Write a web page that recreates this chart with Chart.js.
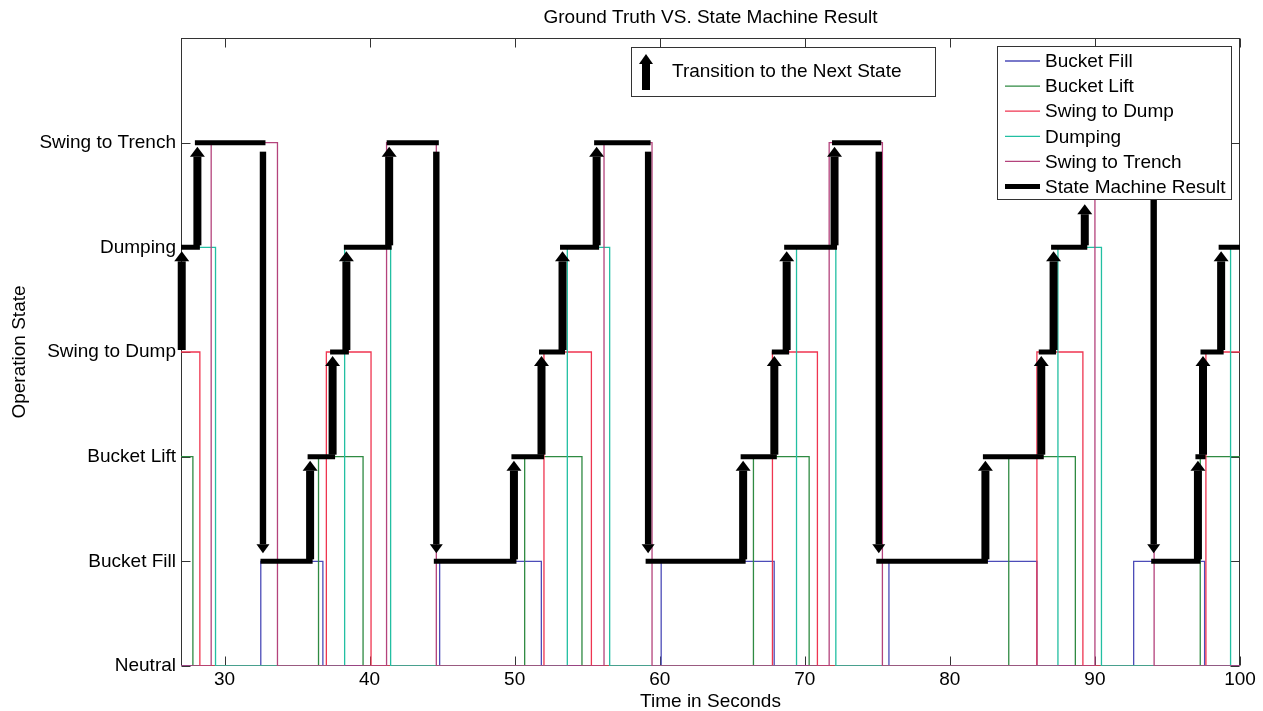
<!DOCTYPE html>
<html>
<head>
<meta charset="utf-8">
<title>Ground Truth VS. State Machine Result</title>
<script src="https://cdn.jsdelivr.net/npm/chart.js@4.4.1/dist/chart.umd.min.js"></script>
<style>
  html, body { margin: 0; padding: 0; background: #fff; }
  #chart { display: block; }
</style>
</head>
<body>
<canvas id="chart" width="1263" height="711"></canvas>
<script>
const stateNames = ['Neutral', 'Bucket Fill', 'Bucket Lift', 'Swing to Dump', 'Dumping', 'Swing to Trench'];
const xTicks = [30, 40, 50, 60, 70, 80, 90, 100];

// ground truth: time where each signal changes and the value it holds from there on
const bucketFillTimes   = [27, 32.5, 36.78, 44.83, 51.84, 60.1, 67.89, 75.8, 86.0, 92.67, 97.56, 100];
const bucketFillValues  = [0, 1, 0, 1, 0, 1, 0, 1, 0, 1, 0, 0];
const bucketLiftTimes   = [27, 27.82, 36.48, 39.55, 50.69, 54.64, 66.46, 70.3, 84.06, 88.65, 97.26, 100];
const bucketLiftValues  = [2, 0, 2, 0, 2, 0, 2, 0, 2, 0, 2, 2];
const swingDumpTimes    = [27, 28.3, 37.02, 40.1, 52.02, 55.29, 67.77, 70.87, 86.0, 89.17, 97.65, 100];
const swingDumpValues   = [3, 0, 3, 0, 3, 0, 3, 0, 3, 0, 3, 3];
const dumpingTimes      = [27, 29.38, 38.28, 41.45, 53.63, 56.55, 69.43, 72.14, 87.45, 90.45, 99.35, 100];
const dumpingValues     = [4, 0, 4, 0, 4, 0, 4, 0, 4, 0, 4, 4];
const swingTrenchTimes  = [27, 29.08, 33.65, 41.17, 44.6, 56.16, 59.47, 71.68, 75.35, 90.0, 94.08, 100];
const swingTrenchValues = [0, 5, 0, 5, 0, 5, 0, 5, 0, 5, 0, 0];

// state machine: transition times and the state entered at each one
const machineStart  = 3;
const machineTimes  = [27.05, 28.13, 32.65, 35.9, 37.45, 38.4, 41.35, 44.6, 49.95, 51.85, 53.3, 55.65,
                       59.2, 65.75, 67.9, 68.75, 72.05, 75.1, 82.45, 86.3, 87.15, 89.3, 94.05, 97.1, 97.45, 98.7];
const machineStates = [4, 5, 1, 2, 3, 4, 5, 1, 2, 3, 4, 5, 1, 2, 3, 4, 5, 1, 2, 3, 4, 5, 1, 2, 3, 4];
// this arrow stops just under the legend box
const shortArrowTips = { 89.3: 4.45 };

const FONT = '19px "Liberation Sans", Arial, sans-serif';
Chart.defaults.font.family = '"Liberation Sans", Arial, sans-serif';
Chart.defaults.font.size = 19;
Chart.defaults.color = '#000';

function steps(times, values) {
    return times.map((t, i) => ({ x: t, y: values[i] }));
}

function machineSegments() {
    const pts = [];
    machineTimes.forEach((t, i) => {
        const end = i + 1 < machineTimes.length ? machineTimes[i + 1] : 100;
        pts.push({ x: t, y: machineStates[i] }, { x: end, y: machineStates[i] }, { x: end, y: null });
    });
    return pts;
}

function truthSet(label, times, values, color, order) {
    return {
        label: label,
        data: steps(times, values),
        borderColor: color,
        borderWidth: 1.3,
        stepped: true,
        pointRadius: 0,
        fill: false,
        order: order
    };
}

// up arrows are a bit fatter than the long down arrows in the original
function drawArrow(ctx, px, y0, y1, shaftHalf, headHalf, headLen) {
    const dir = y1 < y0 ? -1 : 1;
    const yBase = y1 - dir * headLen;
    ctx.fillRect(px - shaftHalf, Math.min(y0, yBase), shaftHalf * 2, Math.abs(yBase - y0));
    ctx.beginPath();
    ctx.moveTo(px - headHalf, yBase);
    ctx.lineTo(px + headHalf, yBase);
    ctx.lineTo(px, y1);
    ctx.closePath();
    ctx.fill();
}

function box(ctx, x, y, w, h) {
    ctx.fillStyle = '#fff';
    ctx.fillRect(x, y, w, h);
    ctx.strokeStyle = '#333';
    ctx.lineWidth = 1;
    ctx.strokeRect(Math.round(x) + 0.5, Math.round(y) + 0.5, Math.round(w), Math.round(h));
}

const framePlugin = {
    id: 'frame',
    beforeDatasetsDraw(chart) {
        const { ctx, chartArea: a, scales: { x, y } } = chart;
        const l = Math.round(a.left) + 0.5, r = Math.round(a.right) - 0.5;
        const t = Math.round(a.top) + 0.5, b = Math.round(a.bottom) - 0.5;
        ctx.save();
        ctx.strokeStyle = '#333';
        ctx.lineWidth = 1;
        ctx.strokeRect(l, t, r - l, b - t);
        ctx.beginPath();
        xTicks.forEach(v => {
            const px = Math.round(x.getPixelForValue(v)) + 0.5;
            ctx.moveTo(px, b); ctx.lineTo(px, b - 9);
            ctx.moveTo(px, t); ctx.lineTo(px, t + 9);
        });
        stateNames.forEach((n, i) => {
            const py = Math.round(y.getPixelForValue(i)) + 0.5;
            ctx.moveTo(l, py); ctx.lineTo(l + 9, py);
            ctx.moveTo(r, py); ctx.lineTo(r - 9, py);
        });
        ctx.stroke();
        ctx.restore();
    }
};

const arrowPlugin = {
    id: 'arrows',
    afterDatasetsDraw(chart) {
        const { ctx, scales: { x, y } } = chart;
        ctx.save();
        ctx.fillStyle = '#000';
        let prev = machineStart;
        machineTimes.forEach((t, i) => {
            const to = machineStates[i];
            const tip = shortArrowTips[t] !== undefined ? shortArrowTips[t] : to;
            const px = x.getPixelForValue(t);
            if (to > prev) {
                drawArrow(ctx, px, y.getPixelForValue(prev) - 2, y.getPixelForValue(tip) + 4, 4, 7.5, 10);
            } else {
                drawArrow(ctx, px, y.getPixelForValue(prev) + 9, y.getPixelForValue(tip) - 8, 3.2, 6.5, 9);
            }
            prev = to;
        });
        ctx.restore();
    }
};

const boxesPlugin = {
    id: 'boxes',
    afterDraw(chart) {
        const { ctx, chartArea: a } = chart;
        ctx.save();
        ctx.font = FONT;
        ctx.textBaseline = 'middle';

        // title, centred over the plot area
        ctx.fillStyle = '#000';
        ctx.textAlign = 'center';
        ctx.fillText('Ground Truth VS. State Machine Result', (a.left + a.right) / 2, 18);

        // transition note
        const tx = a.left + 450, ty = a.top + 9;
        box(ctx, tx, ty, 304, 49);
        ctx.fillStyle = '#000';
        drawArrow(ctx, tx + 15, ty + 43, ty + 7, 4, 7, 10);
        ctx.textAlign = 'left';
        ctx.fillText('Transition to the Next State', tx + 41, ty + 25);

        // legend
        const lx = a.right - 243, ly = a.top + 8;
        box(ctx, lx, ly, 234, 153);
        chart.data.datasets.forEach((ds, i) => {
            const cy = ly + 15 + i * 25.1;
            ctx.strokeStyle = ds.borderColor;
            ctx.lineWidth = ds.borderWidth;
            ctx.beginPath();
            ctx.moveTo(lx + 8, cy);
            ctx.lineTo(lx + 43, cy);
            ctx.stroke();
            ctx.fillStyle = '#000';
            ctx.fillText(ds.label, lx + 48, cy + 1);
        });
        ctx.restore();
    }
};

new Chart(document.getElementById('chart'), {
    type: 'line',
    data: {
        datasets: [
            truthSet('Bucket Fill', bucketFillTimes, bucketFillValues, '#4c4cb8', 5),
            truthSet('Bucket Lift', bucketLiftTimes, bucketLiftValues, '#2f8a42', 4),
            truthSet('Swing to Dump', swingDumpTimes, swingDumpValues, '#ef3550', 3),
            truthSet('Dumping', dumpingTimes, dumpingValues, '#22bfa2', 2),
            truthSet('Swing to Trench', swingTrenchTimes, swingTrenchValues, '#b4437c', 1),
            {
                label: 'State Machine Result',
                data: machineSegments(),
                borderColor: '#000',
                borderWidth: 5,
                borderCapStyle: 'square',
                spanGaps: false,
                pointRadius: 0,
                fill: false,
                order: 0
            }
        ]
    },
    options: {
        responsive: false,
        animation: false,
        events: [],
        layout: { padding: { left: 0, right: 23, top: 38, bottom: 0 } },
        plugins: {
            legend: { display: false },
            title: { display: false },
            tooltip: { enabled: false }
        },
        scales: {
            x: {
                type: 'linear',
                min: 27,
                max: 100,
                afterBuildTicks: s => { s.ticks = xTicks.map(v => ({ value: v })); },
                afterFit: s => { s.height = 45; },
                grid: { display: false, drawTicks: false },
                border: { display: false },
                ticks: { padding: 2, maxRotation: 0, autoSkip: false, color: '#000' },
                title: {
                    display: true,
                    text: 'Time in Seconds',
                    color: '#000',
                    font: { size: 19, lineHeight: 1 },
                    padding: 0
                }
            },
            y: {
                type: 'linear',
                min: 0,
                max: 6,
                afterBuildTicks: s => { s.ticks = stateNames.map((n, i) => ({ value: i })); },
                afterFit: s => { s.width = 181; },
                grid: { display: false, drawTicks: false },
                border: { display: false },
                ticks: { padding: 5, color: '#000', callback: v => stateNames[v] },
                title: {
                    display: true,
                    text: 'Operation State',
                    color: '#000',
                    font: { size: 19, lineHeight: 1 },
                    padding: { top: 10, bottom: 0 }
                }
            }
        }
    },
    plugins: [framePlugin, arrowPlugin, boxesPlugin]
});
</script>
</body>
</html>
